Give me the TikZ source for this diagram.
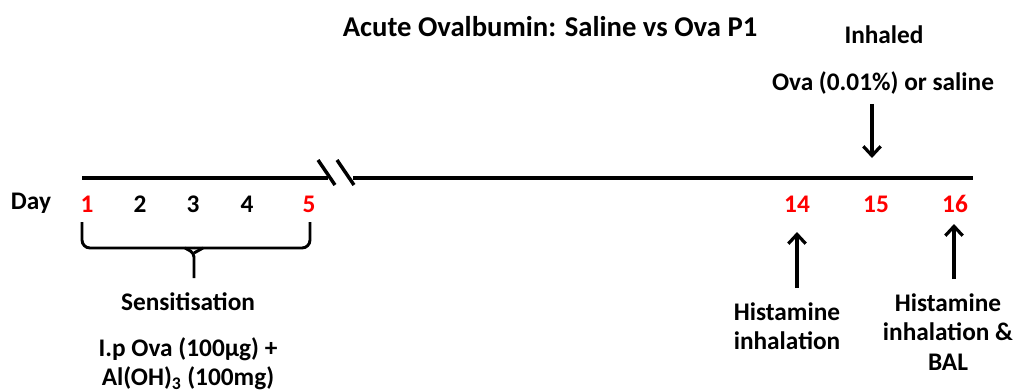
\documentclass[tikz,border=0pt]{standalone}
\usepackage{fontspec}
\setmainfont{Carlito}
\usetikzlibrary{arrows.meta}
\tikzset{
    daytext/.style = {align=center,font=\bfseries\fontsize{19}{22}\selectfont,text=black,inner sep=0pt},
    dayred/.style = {daytext,text=red},
    labtext/.style = {align=center,font=\bfseries\fontsize{19}{22}\selectfont,text=black,inner sep=0pt},
    titletext/.style = {labtext,font=\bfseries\fontsize{21.5}{24}\selectfont},
    edgen/.style = {-,line width=2.6pt,black},
    edgeb/.style = {-,line width=2.2pt,black,rounded corners=6pt}, % brace
    edgea/.style = {-{Straight Barb[length=7pt,width=13pt]},line width=2.4pt,black}, % arrows
}
\begin{document}
\begin{tikzpicture}[x=0.75pt,y=-0.75pt]
\path[use as bounding box] (0,0) rectangle (1016,392);
\node[titletext] at (550,27) (title) {Acute Ovalbumin: Saline vs Ova P1};
%
\coordinate (l0) at (82,178);
\coordinate (l1) at (328,178);
\coordinate (l2) at (353,178);
\coordinate (l3) at (973,178);
\draw[edgen] (l0) -- (l1);
\draw[edgen] (l2) -- (l3);
\draw[edgen] (318,160) -- (335,185);
\draw[edgen] (337,160) -- (354,185);
%
\node[daytext] at (31,203) (day) {Day};
\node[dayred] at (87,204) (d1) {1};
\node[daytext] at (140,204) (d2) {2};
\node[daytext] at (193,204) (d3) {3};
\node[daytext] at (247,204) (d4) {4};
\node[dayred] at (309,204) (d5) {5};
\node[dayred] at (797,204) (d14) {14};
\node[dayred] at (876,204) (d15) {15};
\node[dayred] at (955,204) (d16) {16};
%
\draw[edgeb] (82,222) -- (82,248) -- (194,248);
\draw[edgeb] (310,222) -- (310,248) -- (194,248);
\draw[line width=2.2pt,rounded corners=3pt] (185,248) -- (194,253) -- (194,278);
\draw[line width=2.2pt,rounded corners=3pt] (203,248) -- (194,253);
%
\node[labtext] at (884,35) (inh) {Inhaled};
\node[labtext] at (883,83) (ova) {Ova (0.01\%) or saline};
\coordinate (a15t) at (872,104);
\coordinate (a15b) at (872,158);
\draw[edgea] (a15t) -- (a15b);
%
\coordinate (a14b) at (797,288);
\coordinate (a14t) at (797,232);
\draw[edgea] (a14b) -- (a14t);
\coordinate (a16b) at (954,279);
\coordinate (a16t) at (954,224);
\draw[edgea] (a16b) -- (a16t);
\node[labtext] at (787,326) (his14) {Histamine\\inhalation};
\node[labtext] at (948,332) (his16) {Histamine\\inhalation \&\\BAL};
%
\node[labtext] at (188,302) (sens) {Sensitisation};
\node[labtext] at (188,364) (dose) {I.p Ova (100µg) +\\Al(OH)\textsubscript{3} (100mg)};
\end{tikzpicture}
\end{document}
